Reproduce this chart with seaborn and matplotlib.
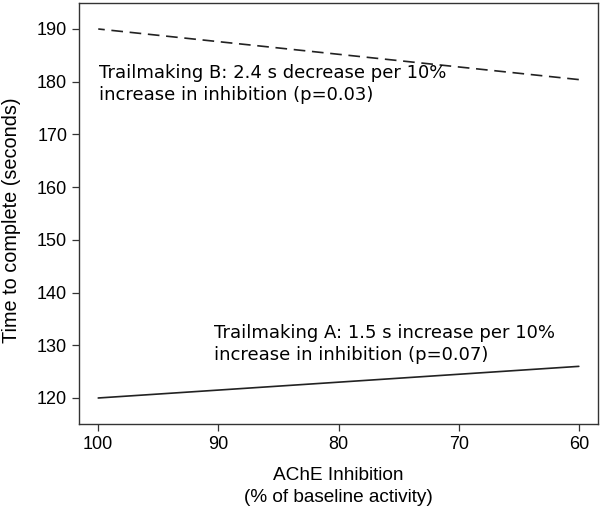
import matplotlib
matplotlib.use('Agg')
import matplotlib.pyplot as plt
import pandas as pd
import seaborn as sns

# AChE inhibition (% of baseline activity) and fitted completion times
ache = [100, 60]
trail_a = [120.0, 126.0]
trail_b = [190.0, 180.4]
x_ticks = [100, 90, 80, 70, 60]
y_ticks = [120, 130, 140, 150, 160, 170, 180, 190]
label_a = 'Trailmaking A: 1.5 s increase per 10%\nincrease in inhibition (p=0.07)'
label_b = 'Trailmaking B: 2.4 s decrease per 10%\nincrease in inhibition (p=0.03)'

df = pd.DataFrame({
    'ache': ache * 2,
    'time': trail_a + trail_b,
    'test': ['A'] * len(ache) + ['B'] * len(ache),
})

sns.set_style('ticks')
plt.rcParams['font.family'] = ['Liberation Sans', 'DejaVu Sans']
plt.rcParams['text.color'] = 'black'
plt.rcParams['axes.labelcolor'] = 'black'
plt.rcParams['xtick.labelcolor'] = 'black'
plt.rcParams['ytick.labelcolor'] = 'black'

fig = plt.figure(figsize=(6, 5.08), dpi=100)
ax = fig.add_axes([0.1317, 0.1654, 0.865, 0.8287])

sns.lineplot(data=df, x='ache', y='time', style='test',
             dashes={'A': '', 'B': (7, 4)}, color='#222222',
             linewidth=1.2, legend=False, ax=ax)

ax.set_xlim(101.6, 58.4)
ax.set_ylim(115.07, 194.93)
ax.set_xticks(x_ticks)
ax.set_yticks(y_ticks)
ax.tick_params(direction='out', length=5, width=0.9, labelsize=13, color='#333333')
for s in ax.spines.values():
    s.set_visible(True)
    s.set_linewidth(1.0)
    s.set_color('#333333')

ax.set_xlabel('AChE Inhibition\n(% of baseline activity)', fontsize=13.7, labelpad=10,
              linespacing=1.4)
ax.set_ylabel('Time to complete (seconds)', fontsize=14.3)
ax.yaxis.set_label_coords(-0.112, 0.485)

ax.text(99.95, 183.3, label_b, fontsize=13, family='DejaVu Sans', va='top',
        linespacing=1.28)
ax.text(90.4, 134.0, label_a, fontsize=13, family='DejaVu Sans', va='top',
        linespacing=1.25)

fig.savefig('out.png', dpi=100)
